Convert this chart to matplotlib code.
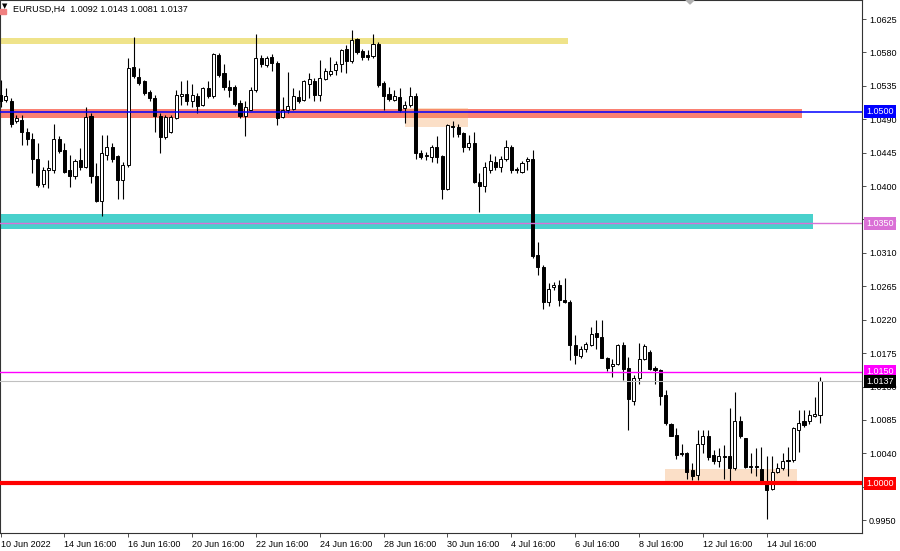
import matplotlib
matplotlib.use("Agg")
import matplotlib.pyplot as plt
import matplotlib.transforms as mtransforms
import numpy as np

plt.rcParams['font.family'] = ['Liberation Sans', 'DejaVu Sans']

# EURUSD H4 candles, 10 Jun 16:00 .. 18 Jul 08:00
opens = [1.0523, 1.0516, 1.0515, 1.0487, 1.0489, 1.0473, 1.0464, 1.0437, 1.0403, 1.0422,
         1.0422, 1.0464, 1.0449, 1.0421, 1.0414, 1.0435, 1.0426, 1.0494, 1.0414, 1.0380,
         1.0442, 1.0453, 1.0440, 1.0408, 1.0428, 1.0560, 1.0547, 1.0541, 1.0527, 1.0518,
         1.0494, 1.0466, 1.0473, 1.0492, 1.0521, 1.0524, 1.0515, 1.0521, 1.0509, 1.0532,
         1.0521, 1.0577, 1.0552, 1.0533, 1.0533, 1.0512, 1.0494, 1.0503, 1.0530, 1.0573,
         1.0563, 1.0574, 1.0566, 1.0493, 1.0503, 1.0504, 1.0520, 1.0516, 1.0538, 1.0542,
         1.0523, 1.0544, 1.0551, 1.0556, 1.0564, 1.0585, 1.0568, 1.0598, 1.0582, 1.0577,
         1.0575, 1.0591, 1.0539, 1.0524, 1.0516, 1.0520, 1.0505, 1.0509, 1.0521, 1.0444,
         1.0440, 1.0439, 1.0452, 1.0440, 1.0396, 1.0481, 1.0480, 1.0471, 1.0452, 1.0458,
         1.0406, 1.0400, 1.0422, 1.0433, 1.0425, 1.0437, 1.0452, 1.0423, 1.0419, 1.0434,
         1.0437, 1.0307, 1.0291, 1.0244, 1.0264, 1.0267, 1.0247, 1.0244, 1.0186, 1.0171,
         1.0181, 1.0186, 1.0202, 1.0197, 1.0169, 1.0157, 1.0161, 1.0186, 1.0155, 1.0111,
         1.0142, 1.0167, 1.0177, 1.0155, 1.0152, 1.0119, 1.0080, 1.0065, 1.0041, 1.0041,
         1.0017, 1.0011, 1.0053, 1.0063, 1.0038, 1.0030, 1.0036, 1.0036, 1.0020, 1.0083,
         1.0060, 1.0023, 1.0023, 1.0019, 1.0002, 0.9992, 1.0015, 1.0020, 1.0031, 1.0031,
         1.0072, 1.0083, 1.0084, 1.0090, 1.0092]
highs = [1.0543, 1.0532, 1.0518, 1.0496, 1.0496, 1.0478, 1.0471, 1.0458, 1.0426, 1.0435,
         1.0483, 1.0467, 1.0458, 1.0442, 1.0437, 1.0451, 1.0506, 1.0498, 1.0431, 1.0469,
         1.0469, 1.0458, 1.0442, 1.0433, 1.0572, 1.0601, 1.0559, 1.0543, 1.0529, 1.0523,
         1.0498, 1.0496, 1.0496, 1.0529, 1.0541, 1.0543, 1.0538, 1.0525, 1.0534, 1.0541,
         1.0579, 1.0579, 1.0565, 1.0543, 1.0536, 1.0516, 1.0514, 1.0534, 1.0605, 1.0577,
         1.0575, 1.0578, 1.0568, 1.0520, 1.0553, 1.0532, 1.0529, 1.0543, 1.0552, 1.0545,
         1.0570, 1.0559, 1.0574, 1.0568, 1.0585, 1.0590, 1.0610, 1.0599, 1.0584, 1.0583,
         1.0605, 1.0594, 1.0541, 1.0534, 1.0529, 1.0532, 1.0514, 1.0534, 1.0525, 1.0449,
         1.0446, 1.0455, 1.0467, 1.0442, 1.0484, 1.0487, 1.0483, 1.0473, 1.0469, 1.0473,
         1.0418, 1.0433, 1.0443, 1.0440, 1.0440, 1.0462, 1.0455, 1.0426, 1.0434, 1.0439,
         1.0448, 1.0324, 1.0294, 1.0270, 1.0271, 1.0273, 1.0276, 1.0246, 1.0199, 1.0184,
         1.0190, 1.0210, 1.0220, 1.0220, 1.0170, 1.0167, 1.0187, 1.0190, 1.0170, 1.0145,
         1.0188, 1.0187, 1.0179, 1.0157, 1.0153, 1.0125, 1.0081, 1.0074, 1.0053, 1.0042,
         1.0027, 1.0072, 1.0072, 1.0072, 1.0045, 1.0047, 1.0051, 1.0101, 1.0123, 1.0090,
         1.0061, 1.0040, 1.0047, 1.0049, 1.0036, 1.0036, 1.0027, 1.0040, 1.0049, 1.0076,
         1.0098, 1.0098, 1.0098, 1.0116, 1.0143]
lows = [1.0507, 1.0513, 1.0480, 1.0485, 1.0455, 1.0455, 1.0417, 1.0399, 1.0399, 1.0397,
        1.0417, 1.0444, 1.0417, 1.0399, 1.0410, 1.0422, 1.0424, 1.0404, 1.0379, 1.0359,
        1.0435, 1.0433, 1.0382, 1.0382, 1.0426, 1.0545, 1.0536, 1.0523, 1.0514, 1.0473,
        1.0444, 1.0464, 1.0471, 1.0490, 1.0509, 1.0509, 1.0507, 1.0498, 1.0508, 1.0518,
        1.0518, 1.0547, 1.0530, 1.0520, 1.0508, 1.0492, 1.0467, 1.0502, 1.0527, 1.0560,
        1.0561, 1.0555, 1.0482, 1.0491, 1.0498, 1.0502, 1.0512, 1.0514, 1.0518, 1.0514,
        1.0514, 1.0543, 1.0548, 1.0550, 1.0553, 1.0552, 1.0566, 1.0578, 1.0570, 1.0570,
        1.0573, 1.0534, 1.0502, 1.0515, 1.0514, 1.0500, 1.0485, 1.0507, 1.0437, 1.0437,
        1.0435, 1.0433, 1.0431, 1.0382, 1.0395, 1.0466, 1.0466, 1.0446, 1.0449, 1.0404,
        1.0365, 1.0392, 1.0417, 1.0422, 1.0419, 1.0434, 1.0417, 1.0418, 1.0417, 1.0422,
        1.0303, 1.0280, 1.0235, 1.0238, 1.0260, 1.0238, 1.0242, 1.0166, 1.0161, 1.0168,
        1.0177, 1.0184, 1.0181, 1.0168, 1.0151, 1.0143, 1.0159, 1.0139, 1.0072, 1.0105,
        1.0134, 1.0166, 1.0152, 1.0134, 1.0105, 1.0078, 1.0063, 1.0033, 1.0036, 1.0006,
        1.0004, 1.0004, 1.0040, 1.0031, 1.0026, 1.0022, 1.0005, 1.0000, 1.0018, 1.0060,
        1.0020, 1.0013, 1.0009, 1.0000, 0.9952, 0.9991, 1.0013, 1.0018, 1.0009, 1.0029,
        1.0042, 1.0076, 1.0080, 1.0089, 1.0081]
closes = [1.0515, 1.0521, 1.0484, 1.0491, 1.0473, 1.0464, 1.0436, 1.0401, 1.0422, 1.0424,
          1.0464, 1.0447, 1.0419, 1.0413, 1.0434, 1.0425, 1.0493, 1.0414, 1.0380, 1.0444,
          1.0453, 1.0437, 1.0408, 1.0428, 1.0559, 1.0548, 1.0539, 1.0526, 1.0518, 1.0494,
          1.0466, 1.0493, 1.0493, 1.0523, 1.0524, 1.0515, 1.0523, 1.0508, 1.0532, 1.0521,
          1.0578, 1.0550, 1.0533, 1.0530, 1.0511, 1.0494, 1.0506, 1.0530, 1.0573, 1.0565,
          1.0573, 1.0566, 1.0492, 1.0503, 1.0508, 1.0521, 1.0514, 1.0541, 1.0544, 1.0523,
          1.0546, 1.0555, 1.0555, 1.0565, 1.0583, 1.0568, 1.0597, 1.0581, 1.0574, 1.0574,
          1.0591, 1.0536, 1.0521, 1.0517, 1.0521, 1.0502, 1.0509, 1.0521, 1.0444, 1.0439,
          1.0442, 1.0452, 1.0439, 1.0396, 1.0482, 1.0479, 1.0470, 1.0452, 1.0458, 1.0405,
          1.0400, 1.0426, 1.0434, 1.0426, 1.0437, 1.0452, 1.0422, 1.0421, 1.0431, 1.0437,
          1.0306, 1.0291, 1.0244, 1.0262, 1.0267, 1.0246, 1.0244, 1.0186, 1.0172, 1.0180,
          1.0187, 1.0201, 1.0197, 1.0169, 1.0155, 1.0161, 1.0186, 1.0153, 1.0113, 1.0142,
          1.0167, 1.0185, 1.0153, 1.0152, 1.0117, 1.0081, 1.0063, 1.0038, 1.0039, 1.0015,
          1.0010, 1.0053, 1.0063, 1.0035, 1.0030, 1.0036, 1.0035, 1.0020, 1.0083, 1.0063,
          1.0021, 1.0021, 1.0021, 1.0002, 0.9990, 1.0015, 1.0020, 1.0030, 1.0030, 1.0074,
          1.0081, 1.0078, 1.0092, 1.0093, 1.0137]

tick_bars = [0, 12, 24, 36, 48, 60, 72, 84, 96, 108, 120, 132, 144]
tick_labels = ["10 Jun 2022", "14 Jun 16:00", "16 Jun 16:00", "20 Jun 16:00",
               "22 Jun 16:00", "24 Jun 16:00", "28 Jun 16:00", "30 Jun 16:00",
               "4 Jul 16:00", "6 Jul 16:00", "8 Jul 16:00", "12 Jul 16:00", "14 Jul 16:00"]
price_ticks = [1.0625, 1.0580, 1.0535, 1.0490, 1.0445, 1.0400, 1.0355, 1.0310,
               1.0265, 1.0220, 1.0175, 1.0130, 1.0085, 1.0040, 0.9995, 0.9950]

# drawn zones: price low, price high, first bar, last bar
zone_low = [1.0591, 1.0492, 1.0342, 1.0480, 1.0000]
zone_high = [1.0599, 1.0504, 1.0362, 1.0505, 1.0019]
zone_start = [-0.1, -0.1, -0.1, 76.0, 124.9]
zone_end = [106.7, 150.7, 152.7, 87.9, 149.7]
zone_colors = ["#efe38a", "#fa8072", "#48d1cc", "#f4a460", "#f4a460"]
zone_alpha = [1, 1, 1, 0.35, 0.35]

# horizontal levels with their price labels
level_prices = [1.0500, 1.0350, 1.0150, closes[-1], 1.0000]
level_colors = ["#0000ff", "#da70d6", "#ff00ff", "#c0c0c0", "#ff0000"]
level_widths = [1.1, 1.0, 1.0, 0.8, 3.0]
label_colors = ["#0000ff", "#da70d6", "#ff00ff", "#000000", "#ff0000"]

fig = plt.figure(figsize=(9, 5.51), dpi=100)
ax = fig.add_axes([0, 18 / 551, 862 / 900, 533 / 551])

for lo, hi, x0, x1, c, a in zip(zone_low, zone_high, zone_start, zone_end, zone_colors, zone_alpha):
    ax.fill_between([x0, x1], lo, hi, color=c, alpha=a, lw=0, zorder=1)

o = np.array(opens)
h = np.array(highs)
l = np.array(lows)
c = np.array(closes)
x = np.arange(len(o))
up = c >= o

ax.vlines(x, l, h, color="black", lw=0.8, zorder=3)
body = np.maximum(np.abs(c - o), 0.00003)
ax.bar(x, body, bottom=np.minimum(o, c), width=0.58,
       color=np.where(up, "white", "black"), edgecolor="black", linewidth=0.7, zorder=3)

trans = mtransforms.blended_transform_factory(ax.transAxes, ax.transData)
for p, lc, lw, bc in zip(level_prices, level_colors, level_widths, label_colors):
    ax.axhline(p, color=lc, lw=lw, zorder=4)
    ax.text(1.005, p, f"{p:.4f}", transform=trans, ha="left", va="center",
            color="white", fontsize=6.5, zorder=6, clip_on=False,
            bbox=dict(boxstyle="square,pad=0.22", fc=bc, ec="none"))

ax.set_xlim(-0.1, 161.9)
ax.set_ylim(0.99327, 1.06506)

ax.yaxis.tick_right()
ax.set_yticks(price_ticks)
ax.set_yticklabels([f"{p:.4f}" for p in price_ticks])
ax.set_xticks(tick_bars)
ax.set_xticklabels(tick_labels, ha="left")
ax.tick_params(axis="both", labelsize=6.5, length=3, width=0.6, color="#333333", pad=2)

for s in ax.spines.values():
    s.set_color("#333333")
    s.set_linewidth(0.8)

fig.text(13 / 900, 1 - 9 / 551,
         f"EURUSD,H4  {opens[-1]:.4f} {highs[-1]:.4f} {lows[-1]:.4f} {closes[-1]:.4f}",
         fontsize=6.5, va="center", ha="left")
fig.text(2 / 900, 1 - 6 / 551, "▼", fontsize=5, family="DejaVu Sans", va="center", ha="left")
fig.patches.append(plt.Rectangle((0, 1 - 14 / 551), 6 / 900, 5 / 551, color="#f08080",
                                 transform=fig.transFigure, figure=fig))
# chart shift marker at the top edge
fig.patches.append(plt.Polygon([[686 / 900, 1.0], [694 / 900, 1.0], [690 / 900, 1 - 4 / 551]],
                               closed=True, color="#b0b0b0", transform=fig.transFigure, figure=fig))

fig.savefig("out.png", dpi=100, facecolor="white")
